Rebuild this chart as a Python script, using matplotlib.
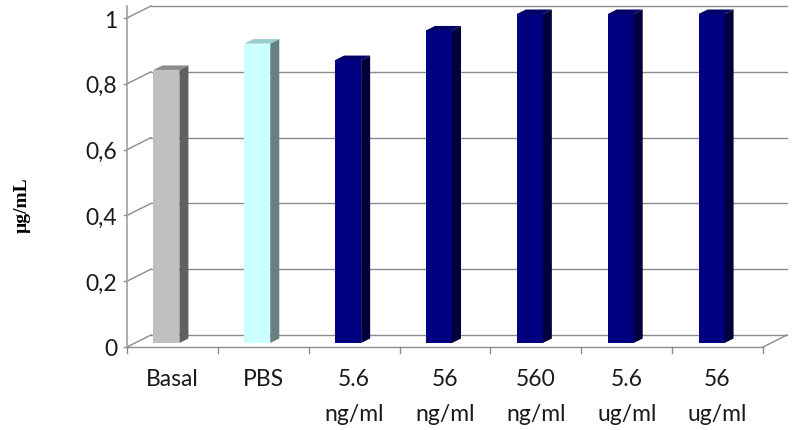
import numpy as np
import matplotlib.pyplot as plt
from matplotlib.patches import Polygon

# chart data
categories = ["Basal", "PBS", "5.6\nng/ml", "56\nng/ml", "560\nng/ml", "5.6\nug/ml", "56\nug/ml"]
values = [0.83, 0.91, 0.86, 0.95, 1.0, 1.0, 1.0]
yticks = [0, 0.2, 0.4, 0.6, 0.8, 1]
ytick_labels = ["0", "0,2", "0,4", "0,6", "0,8", "1"]

# (front, side, top) colours per bar
face_colors = [("#C0C0C0", "#606060", "#8C8C8C"),
               ("#CCFFFF", "#668080", "#99CCCC")] + [("#000080", "#00003C", "#000066")] * 5

W, H = 794, 431
fig = plt.figure(figsize=(W / 100, H / 100), dpi=100)
ax = fig.add_axes([127 / W, 83 / H, 636 / W, 329 / H])
ax.set_xlim(-0.5, len(categories) - 0.5)
ax.set_ylim(0, 1)
for s in ax.spines.values():
    s.set_visible(False)

# pixel -> data factors
sx = (len(categories)) / 636
sy = 1 / 329

grid_c = "#8C8C8C"
x0, x1 = -0.5, len(categories) - 0.5
wall_dx, wall_dy = 24 * sx, 12 * sy

# back wall grid + left wall diagonals
for v in yticks:
    ax.plot([x0 + wall_dx, x1 + wall_dx], [v + wall_dy, v + wall_dy], color=grid_c, lw=1, zorder=1, clip_on=False)
    ax.plot([x0, x0 + wall_dx], [v, v + wall_dy], color=grid_c, lw=1, zorder=1, clip_on=False)
    ax.plot([x0 - 3 * sx, x0], [v, v], color=grid_c, lw=1, zorder=1, clip_on=False)

# floor front edge + right diagonal
ax.plot([x0, x1], [0, 0], color=grid_c, lw=1, zorder=1, clip_on=False)
ax.plot([x1, x1 + wall_dx], [0, wall_dy], color=grid_c, lw=1, zorder=1, clip_on=False)
# vertical axis
ax.plot([x0, x0], [0, 1 + wall_dy], color="#A0A0A0", lw=1.2, zorder=1, clip_on=False)
# category ticks
for b in np.arange(x0, x1 + 0.01, 1):
    ax.plot([b, b], [0, -6 * sy], color=grid_c, lw=1, zorder=1, clip_on=False)

# 3d-ish bars
bw = 26 * sx
shift_x, shift_y = -6 * sx, 4 * sy
dx, dy = 9 * sx, 4.5 * sy
for i, v in enumerate(values):
    front, side, top = face_colors[i]
    l = i + shift_x - bw / 2
    r = l + bw
    b = shift_y
    t = v + shift_y
    ax.add_patch(Polygon([(l, b), (r, b), (r, t), (l, t)], closed=True, fc=front, ec="none", zorder=3, clip_on=False))
    ax.add_patch(Polygon([(r, b), (r + dx, b + dy), (r + dx, t + dy), (r, t)], closed=True, fc=side, ec="none", zorder=3, clip_on=False))
    ax.add_patch(Polygon([(l, t), (r, t), (r + dx, t + dy), (l + dx, t + dy)], closed=True, fc=top, ec="none", zorder=3, clip_on=False))

# tick labels
ax.set_xticks(range(len(categories)))
ax.set_xticklabels(categories, fontfamily="Lato", fontsize=16.5, color="#1A1A1A", linespacing=1.85)
ax.tick_params(axis="x", length=0, pad=15)
ax.set_yticks(yticks)
ax.set_yticklabels(ytick_labels, fontfamily="Lato", fontsize=16.5, color="#1A1A1A")
ax.tick_params(axis="y", length=0, pad=7)

fig.text(22 / W, 1 - 205 / H, "µg/mL", rotation=90, ha="center", va="center",
         fontfamily="Liberation Serif", fontweight="bold", fontsize=14)

fig.savefig("out.png", dpi=100)
